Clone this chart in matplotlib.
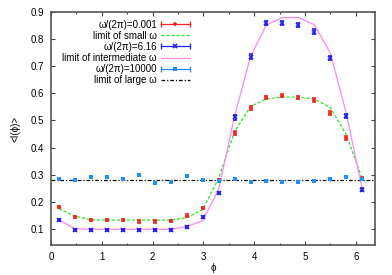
import numpy as np
import matplotlib
matplotlib.use("Agg")
import matplotlib.pyplot as plt
from matplotlib.lines import Line2D
from matplotlib.legend_handler import HandlerBase
from matplotlib.ticker import MultipleLocator

plt.rcParams['font.family'] = ['Liberation Sans', 'DejaVu Sans']
plt.rcParams['font.size'] = 7

# phi grid: 20 bins
phi = [0.157, 0.471, 0.785, 1.100, 1.414, 1.728, 2.042, 2.356, 2.670, 2.985,
       3.299, 3.613, 3.927, 4.241, 4.555, 4.869, 5.184, 5.498, 5.812, 6.126]

# omega/(2pi) = 0.001 (data)
I_small = [0.179, 0.143, 0.131, 0.133, 0.131, 0.127, 0.127, 0.129, 0.149, 0.176,
           0.279, 0.454, 0.546, 0.585, 0.591, 0.584, 0.575, 0.526, 0.435, 0.285]
err_small = [0.004, 0.004, 0.004, 0.004, 0.004, 0.004, 0.004, 0.004, 0.004, 0.004,
             0.005, 0.006, 0.007, 0.007, 0.006, 0.006, 0.006, 0.007, 0.008, 0.005]
# limit of small omega
L_small = [0.174, 0.147, 0.133, 0.132, 0.132, 0.132, 0.132, 0.132, 0.141, 0.171,
           0.286, 0.459, 0.551, 0.580, 0.586, 0.586, 0.579, 0.548, 0.447, 0.285]

# omega/(2pi) = 6.16 (data)
I_mid = [0.132, 0.095, 0.095, 0.096, 0.094, 0.095, 0.097, 0.097, 0.107, 0.142,
         0.232, 0.511, 0.736, 0.859, 0.861, 0.853, 0.828, 0.730, 0.517, 0.244]
err_mid = [0.004, 0.004, 0.004, 0.004, 0.004, 0.004, 0.004, 0.004, 0.004, 0.004,
           0.005, 0.008, 0.008, 0.008, 0.007, 0.007, 0.008, 0.008, 0.008, 0.006]
# limit of intermediate omega
L_mid = [0.133, 0.100, 0.098, 0.098, 0.098, 0.098, 0.098, 0.098, 0.108, 0.130,
         0.245, 0.515, 0.736, 0.853, 0.880, 0.880, 0.853, 0.749, 0.527, 0.245]

# omega/(2pi) = 10000 (data)
I_large = [0.285, 0.280, 0.293, 0.292, 0.285, 0.298, 0.269, 0.272, 0.295, 0.281,
           0.277, 0.283, 0.274, 0.278, 0.274, 0.274, 0.277, 0.282, 0.291, 0.283]
err_large = [0.004] * 20
# limit of large omega
L_large = 0.28

labels = ["ω/(2π)=0.001", "limit of small ω", "ω/(2π)=6.16",
          "limit of intermediate ω", "ω/(2π)=10000", "limit of large ω"]

c_red = '#ff2020'
c_green = '#22ee22'
c_blue = '#2020ff'
c_mag = '#ff88ff'
c_lblue = '#1e8fff'

fig = plt.figure(figsize=(3.92, 2.75), dpi=100)
ax = fig.add_axes([0.130, 0.109, 0.827, 0.847])

xlim = (0, 6.38)
ax.plot(xlim, [L_large, L_large], color='black', lw=0.9, ls=(0, (3, 1.5, 1, 1.5)), zorder=2)
ax.plot(phi, L_small, color=c_green, lw=0.9, ls=(0, (2.5, 1.5)), zorder=2)
ax.plot(phi, L_mid, color=c_mag, lw=0.9, zorder=2)

ax.errorbar(phi, I_small, yerr=err_small, fmt='+', color=c_red, ms=3.5, mew=1.2,
            elinewidth=0.8, capsize=1.5, capthick=0.8, zorder=3)
ax.errorbar(phi, I_mid, yerr=err_mid, fmt='x', color=c_blue, ms=3, mew=1.2,
            elinewidth=0.8, capsize=1.5, capthick=0.8, zorder=3)
ax.errorbar(phi, I_large, yerr=err_large, fmt='s', color=c_lblue, ms=3.2, mew=0,
            elinewidth=0.8, capsize=1.5, capthick=0.8, zorder=3)

ax.set_xlim(*xlim)
ax.set_ylim(0.04, 0.9)
ax.xaxis.set_major_locator(MultipleLocator(1))
ax.xaxis.set_minor_locator(MultipleLocator(0.5))
ax.yaxis.set_major_locator(MultipleLocator(0.1))
ax.tick_params(which='both', direction='in', top=True, right=True, colors='#444444',
               labelcolor='black', width=0.8)
ax.tick_params(which='major', length=3, pad=5)
ax.tick_params(axis='x', which='major', pad=5)
ax.tick_params(which='minor', length=1.5)
for s in ax.spines.values():
    s.set_color('#555555')
    s.set_linewidth(1.2)

ax.set_xlabel('ϕ', labelpad=1)
ax.set_ylabel('<I(ϕ)>', labelpad=7)


class ErrHandle:
    def __init__(self, color, marker, ms):
        self.color = color
        self.marker = marker
        self.ms = ms


class HandlerErr(HandlerBase):
    def create_artists(self, legend, orig, xdescent, ydescent, width, height, fontsize, trans):
        y = height / 2 - ydescent
        x0, x1 = -xdescent, width - xdescent
        line = Line2D([x0, x1], [y, y], color=orig.color, lw=0.9, transform=trans)
        caps = Line2D([x0, x1], [y, y], ls='none', marker='|', ms=4, mew=0.9,
                      color=orig.color, transform=trans)
        mk = Line2D([(x0 + x1) / 2], [y], ls='none', marker=orig.marker, ms=orig.ms,
                    mew=1.2 if orig.marker != 's' else 0, color=orig.color, transform=trans)
        return [line, caps, mk]


handles = [ErrHandle(c_red, '+', 3.5),
           Line2D([], [], color=c_green, lw=0.9, ls=(0, (2.5, 1.5))),
           ErrHandle(c_blue, 'x', 3),
           Line2D([], [], color=c_mag, lw=0.9),
           ErrHandle(c_lblue, 's', 3.2),
           Line2D([], [], color='black', lw=0.9, ls=(0, (3, 1.5, 1, 1.5)))]

leg = fig.legend(handles, labels, loc='upper right', bbox_to_anchor=(189.5 / 392, 1 - 19.5 / 275),
                 frameon=False, markerfirst=False, borderpad=0, borderaxespad=0,
                 labelspacing=0.12, handlelength=2.9, handletextpad=0.45, fontsize=7,
                 handler_map={ErrHandle: HandlerErr()})

fig.savefig('out.png', dpi=100)
